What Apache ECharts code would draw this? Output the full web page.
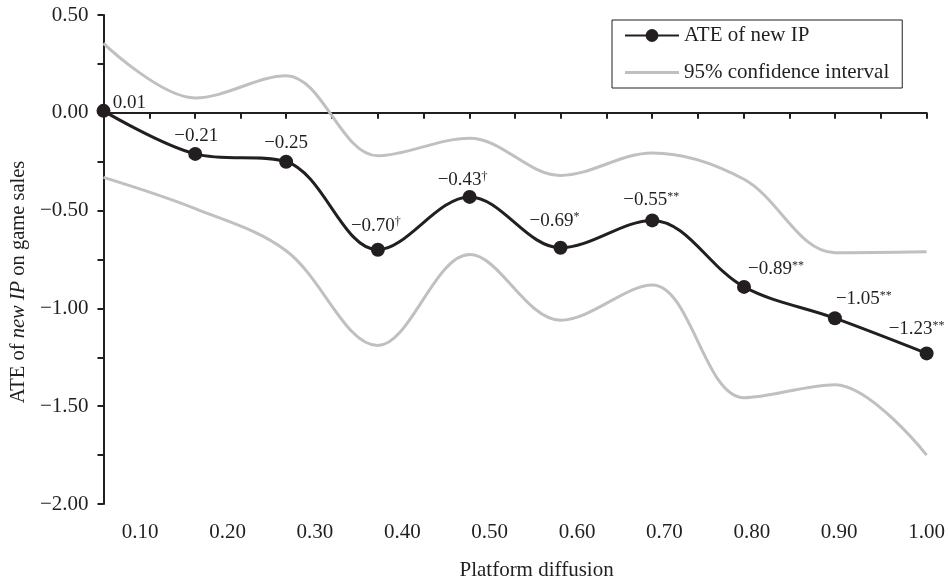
<!DOCTYPE html>
<html>
<head>
<meta charset="utf-8">
<title>ATE of new IP by platform diffusion</title>
<script src="https://cdn.jsdelivr.net/npm/echarts@6/dist/echarts.min.js"></script>
<style>
  html, body { margin: 0; padding: 0; background: #fff; }
  #chart { width: 948px; height: 586px; }
</style>
</head>
<body>
<div id="chart"></div>
<script>
// values
var diffusion = [0.058, 0.163, 0.267, 0.372, 0.477, 0.581, 0.686, 0.791, 0.895, 1.000];
var ate = [0.01, -0.21, -0.25, -0.70, -0.43, -0.69, -0.55, -0.89, -1.05, -1.23];
var sig = ['', '', '', '\u2020', '\u2020', '*', '**', '**', '**', '**'];
var ciUpper = [0.355, 0.076, 0.19, -0.22, -0.13, -0.32, -0.205, -0.34, -0.715, -0.71];
var ciLower = [-0.33, -0.49, -0.705, -1.19, -0.725, -1.06, -0.88, -1.457, -1.39, -1.75];
var xTicks = [0.10, 0.20, 0.30, 0.40, 0.50, 0.60, 0.70, 0.80, 0.90, 1.00];

var font = "'Liberation Serif', 'Times New Roman', serif";
var ink = '#231f20';
var grey = '#c0c0c0';

// where each data label sits relative to its marker (px)
var labelShift = [[26, -8], [1, -18], [0, -19], [-2, -24], [-7, -17],
                  [-6, -27], [-1, -20], [32, -18], [29, -19], [-10, -24]];

function fmt(v) {
  return (v < 0 ? '\u2212' : '') + Math.abs(v).toFixed(2);
}

// ticks on the zero line: at every estimate and half way between
var zeroTicks = [];
for (var i = 0; i < diffusion.length; i++) {
  zeroTicks.push(diffusion[i]);
  if (i < diffusion.length - 1) zeroTicks.push((diffusion[i] + diffusion[i + 1]) / 2);
}

function pairs(ys) {
  return ys.map(function (y, i) { return [diffusion[i], y]; });
}

var chart = echarts.init(document.getElementById('chart'));

var option = {
  animation: false,
  backgroundColor: '#fff',
  textStyle: { fontFamily: font, color: ink },
  grid: { left: 97, right: 18, top: 15, bottom: 80 },
  legend: {
    orient: 'vertical',
    left: 612,
    top: 20,
    padding: [5, 13, 5, 12],
    borderColor: ink,
    borderWidth: 1,
    itemWidth: 54,
    itemHeight: 16,
    itemGap: 16,
    textStyle: { fontFamily: font, fontSize: 21, color: ink },
    data: [
      { name: 'ATE of new IP' },
      // plain grey line, no marker
      { name: '95% confidence interval', icon: 'path://M0,0H54V3H0Z' }
    ]
  },
  xAxis: [
    {
      type: 'value',
      min: diffusion[0],
      max: diffusion[diffusion.length - 1],
      position: 'bottom',
      axisLine: { show: false, onZero: false },
      axisTick: { show: false },
      splitLine: { show: false },
      axisLabel: {
        customValues: xTicks,
        formatter: function (v) { return v.toFixed(2); },
        margin: 18,
        fontFamily: font,
        fontSize: 21,
        color: ink
      },
      name: 'Platform diffusion',
      nameLocation: 'middle',
      nameGap: 56,
      nameTextStyle: { fontFamily: font, fontSize: 21, color: ink, padding: [0, 0, 0, 43] }
    },
    {
      type: 'value',
      min: diffusion[0],
      max: diffusion[diffusion.length - 1],
      position: 'bottom',
      axisLine: { onZero: true, lineStyle: { color: ink, width: 2 } },
      axisTick: { customValues: zeroTicks, length: 6, lineStyle: { color: ink, width: 2 } },
      axisLabel: { show: false },
      splitLine: { show: false }
    }
  ],
  yAxis: {
    type: 'value',
    min: -2,
    max: 0.5,
    interval: 0.5,
    axisLine: { show: true, onZero: false, lineStyle: { color: ink, width: 2 } },
    axisTick: { show: true, length: 6, lineStyle: { color: ink, width: 2 } },
    minorTick: { show: true, splitNumber: 2, length: 6, lineStyle: { color: ink, width: 2 } },
    splitLine: { show: false },
    axisLabel: { formatter: fmt, margin: 15, fontFamily: font, fontSize: 21, color: ink },
    name: 'ATE of {i|new IP} on game sales',
    nameLocation: 'middle',
    nameGap: 66,
    nameTextStyle: {
      fontFamily: font, fontSize: 20.5, color: ink,
      padding: [0, 45, 0, 0],
      rich: { i: { fontFamily: font, fontSize: 20.5, fontStyle: 'italic', color: ink } }
    }
  },
  series: [
    {
      name: '95% confidence interval',
      type: 'line',
      xAxisIndex: 1,
      smooth: 0.35,
      symbol: 'none',
      lineStyle: { color: grey, width: 3 },
      itemStyle: { color: grey },
      data: pairs(ciUpper)
    },
    {
      name: '95% confidence interval',
      type: 'line',
      xAxisIndex: 1,
      smooth: 0.35,
      symbol: 'none',
      lineStyle: { color: grey, width: 3 },
      itemStyle: { color: grey },
      data: pairs(ciLower)
    },
    {
      name: 'ATE of new IP',
      type: 'line',
      xAxisIndex: 1,
      smooth: 0.35,
      symbol: 'circle',
      symbolSize: 14,
      lineStyle: { color: ink, width: 3 },
      itemStyle: { color: ink },
      label: {
        show: true,
        position: 'inside',
        formatter: function (p) {
          var i = p.dataIndex;
          var s = '{v|' + fmt(ate[i]) + '}';
          return sig[i] ? s + '{s|' + sig[i] + '}' : s;
        },
        rich: {
          v: { fontFamily: font, fontSize: 19, color: ink },
          s: { fontFamily: font, fontSize: 12, color: ink, verticalAlign: 'top' }
        }
      },
      data: ate.map(function (v, i) {
        return { value: [diffusion[i], v], label: { offset: labelShift[i] } };
      })
    }
  ]
};

chart.setOption(option);
</script>
</body>
</html>
